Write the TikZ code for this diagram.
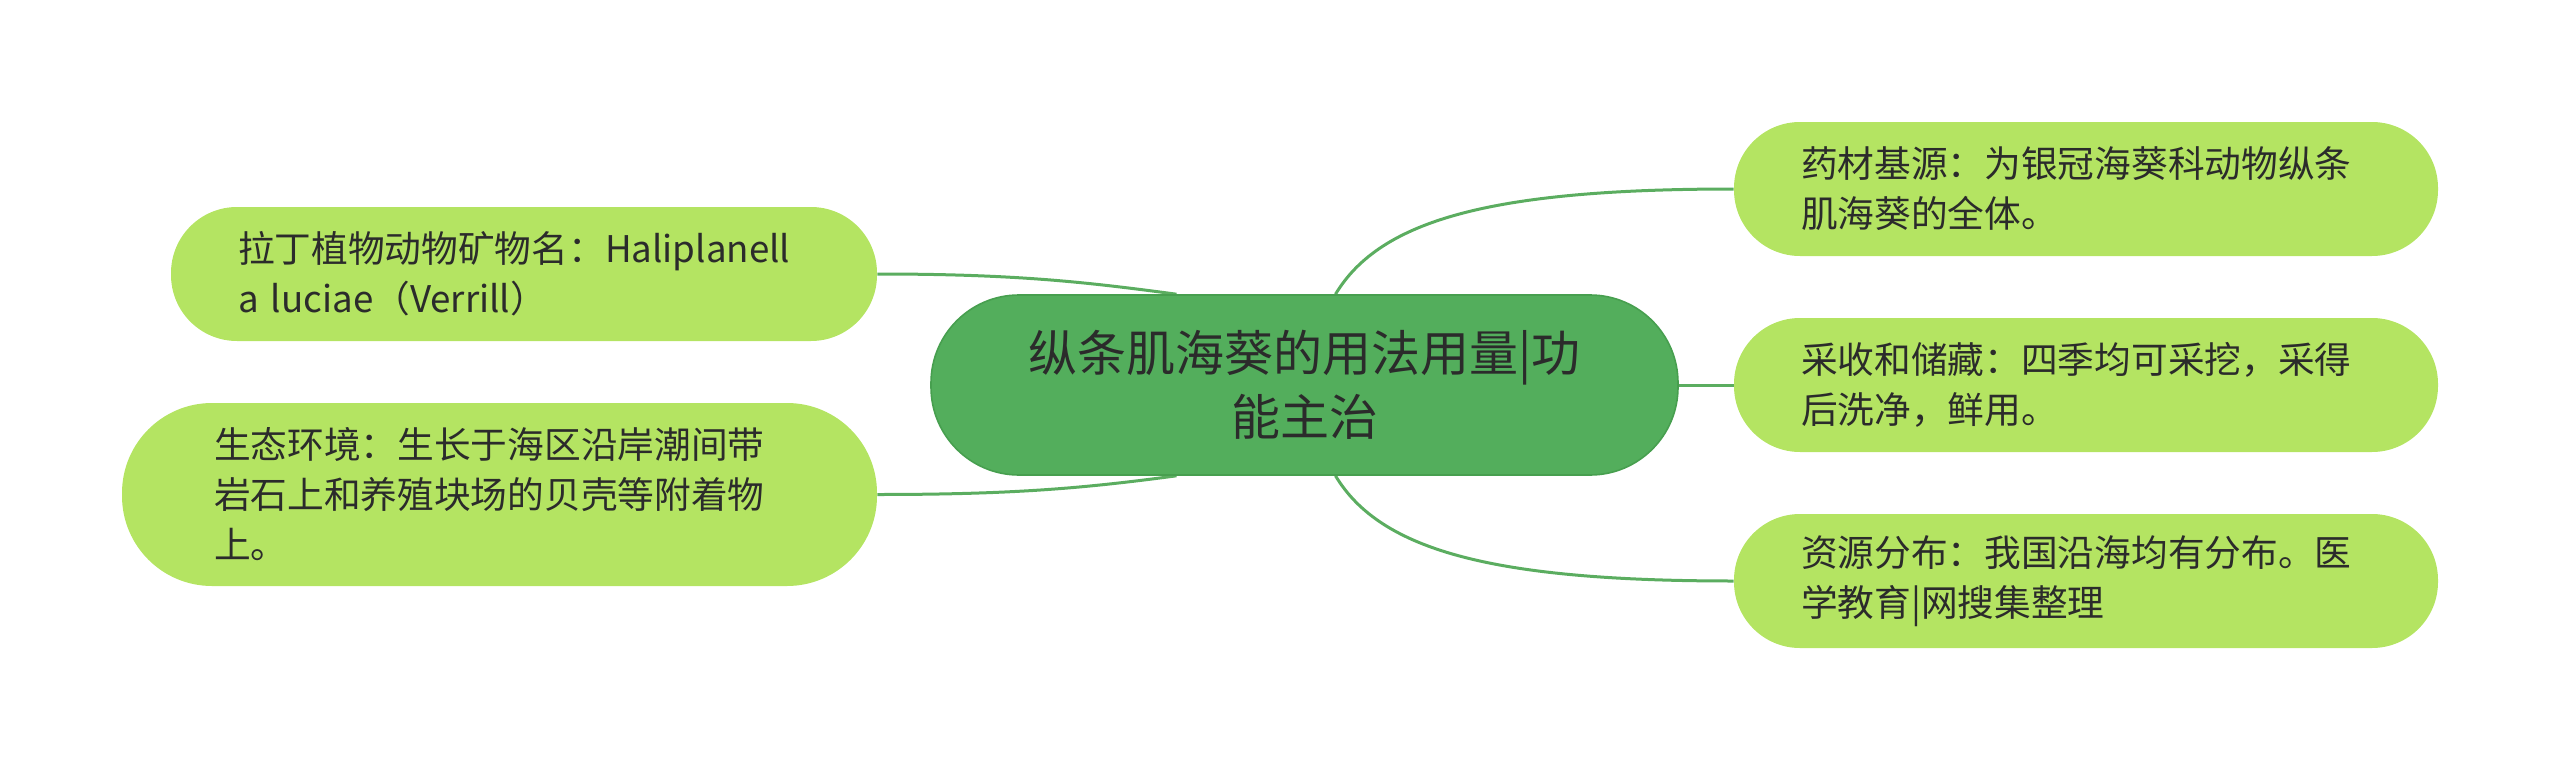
\documentclass[tikz,border=0pt]{standalone}
\usepackage{fontspec}
\setmainfont{Noto Sans CJK SC}
\usetikzlibrary{backgrounds,calc}
\definecolor{centfill}{HTML}{53AE5C}
\definecolor{centdraw}{HTML}{479F4F}
\definecolor{leaffill}{HTML}{B4E462}
\definecolor{linkc}{HTML}{5BAD60}
\definecolor{txt}{HTML}{2B2B2B}
\tikzset{
  centre/.style={draw=centdraw, line width=0.8pt, fill=centfill, rounded corners=44pt,
    minimum width=373.5pt, minimum height=90pt, text width=300pt, align=center,
    inner sep=0pt, text=txt, font=\fontsize{24.5}{32}\selectfont},
  leaf/.style={fill=leaffill, rounded corners=33pt, minimum height=67pt,
    align=left, inner ysep=0pt, text=txt, font=\fontsize{18.35}{25}\selectfont},
  link/.style={draw=linkc, line width=1.5pt},
}
\begin{document}
\begin{tikzpicture}[x=0.5pt,y=-0.5pt]
\useasboundingbox (0,0) rectangle (2560,771);
\node[centre] (c) at (1304.5,385) {纵条肌海葵的用法用量|功\\能主治};
\node[leaf, text width=286pt, inner xsep=33.5pt] (l1) at (524,274)
  {拉丁植物动物矿物名：Haliplanell\\a luciae（Verrill）};
\node[leaf, text width=285.5pt, inner xsep=46pt, minimum height=91.5pt, rounded corners=45pt] (l2) at (499.5,494.5)
  {生态环境：生长于海区沿岸潮间带\\岩石上和养殖块场的贝壳等附着物\\上。};
\node[leaf, text width=285pt, inner xsep=33.5pt] (r1) at (2086,189)
  {药材基源：为银冠海葵科动物纵条\\肌海葵的全体。};
\node[leaf, text width=285pt, inner xsep=33.5pt] (r2) at (2086,385)
  {采收和储藏：四季均可采挖，采得\\后洗净，鲜用。};
\node[leaf, text width=285pt, inner xsep=33.5pt] (r3) at (2086,581)
  {资源分布：我国沿海均有分布。医\\学教育|网搜集整理};
\begin{scope}[on background layer]
\coordinate (c1) at ($(c.north)+(-128,0)$);
\coordinate (c2) at ($(c.south)+(-128,0)$);
\coordinate (c3) at ($(c.north)+(31,0)$);
\coordinate (c4) at ($(c.south)+(31,0)$);
\draw[link] (l1.east) .. controls ($(l1.east)+(140,0)$) and ($(c1)+(-90,-12)$) .. (c1);
\draw[link] (l2.east) .. controls ($(l2.east)+(140,0)$) and ($(c2)+(-90,12)$) .. (c2);
\draw[link] (c3) .. controls ($(c3)+(45,-75)$) and ($(r1.west)+(-240,0)$) .. (r1.west);
\draw[link] (c4) .. controls ($(c4)+(45,75)$) and ($(r3.west)+(-240,0)$) .. (r3.west);
\draw[link] (c.east) -- (r2.west);
\end{scope}
\end{tikzpicture}
\end{document}
